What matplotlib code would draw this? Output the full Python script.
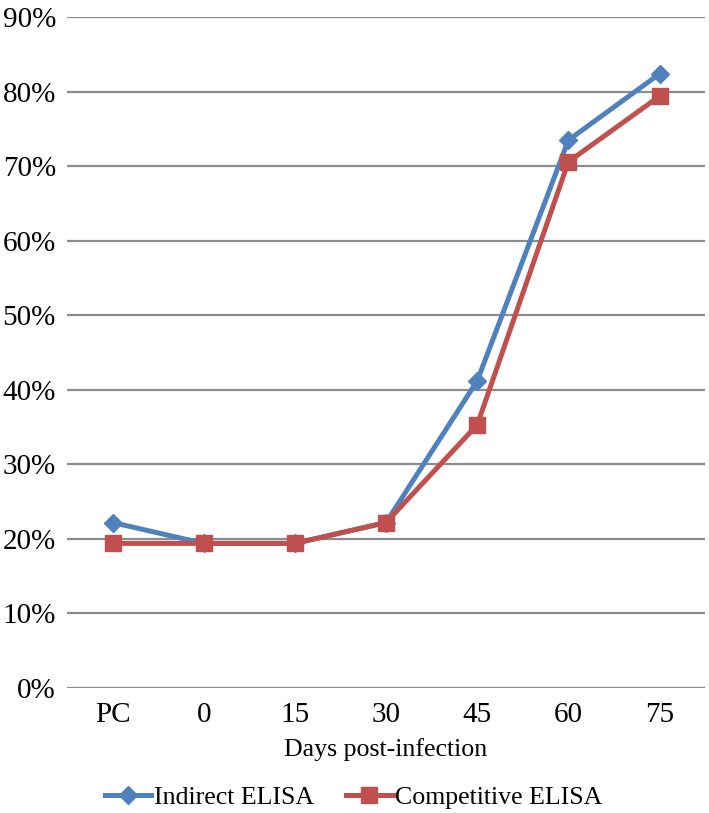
import numpy as np
import matplotlib
matplotlib.use('Agg')
import matplotlib.pyplot as plt
from matplotlib.ticker import FuncFormatter

categories = ['PC', '0', '15', '30', '45', '60', '75']
indirect = [22.2, 19.4, 19.4, 22.2, 41.2, 73.5, 82.4]
competitive = [19.4, 19.4, 19.4, 22.2, 35.3, 70.6, 79.4]

plt.rcParams['font.family'] = ['Liberation Serif', 'DejaVu Serif']

fig = plt.figure(figsize=(7.09, 8.13), dpi=100)
ax = fig.add_axes([0.0945, 0.1538, 0.90, 0.825])

x = np.arange(len(categories))
ax.plot(x, indirect, color='#4F81BD', lw=3.6, marker='D', ms=9, label='Indirect ELISA', zorder=3)
ax.plot(x, competitive, color='#C0504D', lw=3.6, marker='s', ms=11, label='Competitive ELISA', zorder=3)

ax.set_xlim(-0.5, len(categories) - 0.5)
ax.set_ylim(0, 90)
ax.set_yticks(np.arange(0, 91, 10))
ax.yaxis.set_major_formatter(FuncFormatter(lambda v, p: '%d%%' % v))
ax.set_xticks(x)
ax.set_xticklabels(categories)
ax.grid(axis='y', color='#8C8C8C', lw=1.6)
ax.set_axisbelow(True)
for s in ax.spines.values():
    s.set_visible(False)
ax.tick_params(length=0, labelsize=21)
ax.tick_params(axis='y', pad=8)
ax.tick_params(axis='x', pad=10)
ax.set_xlabel('Days post-infection', fontsize=18.6, labelpad=7)

# legend below the plot, centred on the figure
ax.legend(loc='center', bbox_to_anchor=(0.449, -0.163), ncol=2, frameon=False,
          fontsize=18.6, handlelength=1.8, columnspacing=1.25, handletextpad=0.1)

fig.savefig('out.png', dpi=100)
